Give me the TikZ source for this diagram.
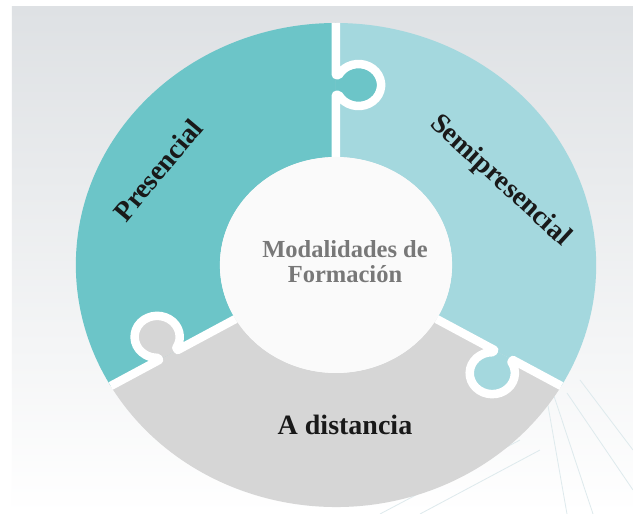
\documentclass[tikz,border=0pt]{standalone}
\usepackage{fontspec}
\setmainfont{Liberation Serif}
\definecolor{pzteal}{RGB}{108,197,200}
\definecolor{pzlight}{RGB}{164,216,222}
\definecolor{pzgray}{RGB}{214,214,214}
\definecolor{pztext}{RGB}{120,120,120}
\definecolor{pzbg}{RGB}{222,225,228}
\definecolor{pzline}{RGB}{222,234,237}
\usetikzlibrary{positioning}

\begin{document}
\begin{tikzpicture}[x=1pt,y=1pt,
    every node/.style={font=\bfseries\fontsize{28}{30}\selectfont,text=black!90},
    gap/.style={draw=white,line width=8.5pt,line join=round}]
  \useasboundingbox (-336,-249) rectangle (297,265);
  %% Background
  \fill[white] (-336,-249) rectangle (297,265);
  \shade[top color=pzbg,middle color=pzbg!55,bottom color=white]
        (-324,-249) rectangle (297,258);
  \foreach \xa/\ya/\xb/\yb in {231/-128/297/-225, 217/-128/257/-249,
      211/-135/231/-249, 244/-115/297/-185, 44/-249/184/-175, 84/-249/204/-185}
    \draw[pzline,line width=0.8pt] (\xa,\ya) -- (\xb,\yb);

  %% Puzzle ring
  \begin{scope}[xscale=1.075]
    \fill[pzteal] (90:108) -- (90:242) arc[start angle=90,end angle=210,radius=242]
          -- (210:108) arc[start angle=210,end angle=90,radius=108] -- cycle;
    \fill[pzgray] (210:108) -- (210:242) arc[start angle=210,end angle=330,radius=242]
          -- (330:108) arc[start angle=330,end angle=210,radius=108] -- cycle;
    \fill[pzlight] (-30:108) -- (-30:242) arc[start angle=-30,end angle=90,radius=242]
          -- (90:108) arc[start angle=90,end angle=-30,radius=108] -- cycle;
    %% Tabs and gaps
    \foreach \ang/\col in {90/pzteal,210/pzgray,330/pzlight}{
      \begin{scope}[rotate=\ang]
        \fill[\col] (170,0) -- (170,-2.5) arc[start angle=118.4,end angle=421.6,radius=21]
              -- (190,0) -- cycle;
        \draw[gap] (108,0) -- (170,0) -- (170,-2.5)
              arc[start angle=118.4,end angle=421.6,radius=21] -- (190,0) -- (242,0);
      \end{scope}
    }
    \fill[white!98!black] (0,0) circle[radius=108];
  \end{scope}

  %% Labels
  \node[anchor=base,text=pztext,font=\bfseries\fontsize{24.5}{25}\selectfont]
        (modal) at (9,7) {Modalidades de};
  \node[anchor=base,text=pztext,font=\bfseries\fontsize{24.5}{25}\selectfont]
        (formac) at ([yshift=-25pt]modal.base) {Formación};
  \node[anchor=base] (dist) at (9,-170) {A distancia};
  \node[rotate=50] (pres) at (-178,95) {Presencial};
  \node[rotate=-42.5] (semi) at (164,84) {Semipresencial};
\end{tikzpicture}
\end{document}
